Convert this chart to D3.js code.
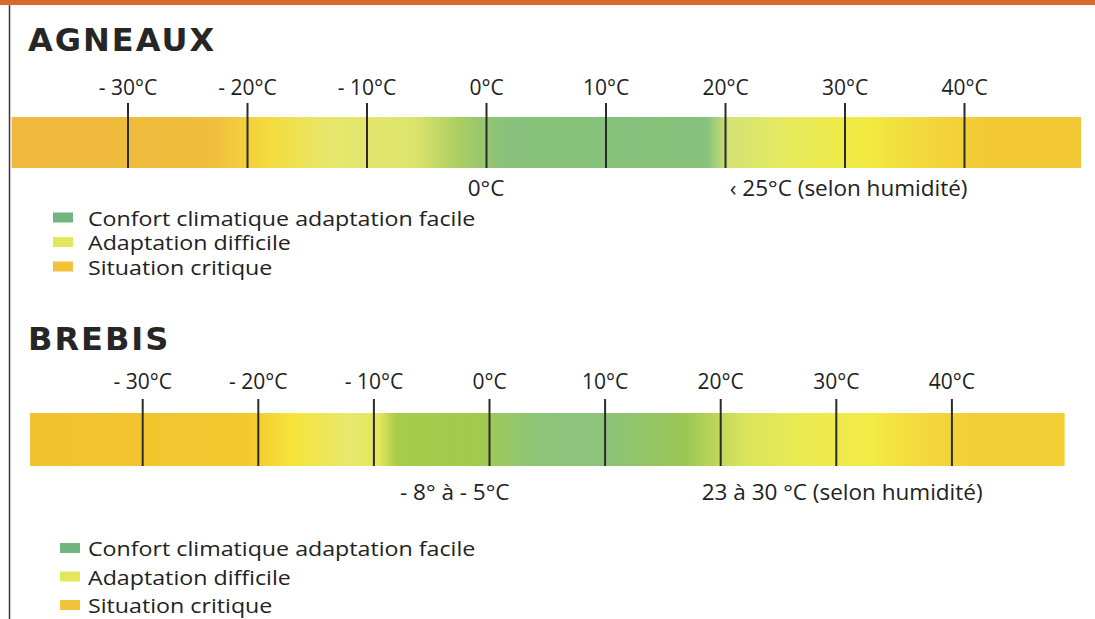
<!DOCTYPE html>
<html><head><meta charset="utf-8">
<script src="https://cdn.jsdelivr.net/npm/d3@7"></script>
<style>
html,body{margin:0;padding:0;background:#fff;}
svg{display:block;}
</style></head>
<body>
<svg id="chart" width="1095" height="619"></svg>
<script>
// ---- data ----
const tickValues = [-30, -20, -10, 0, 10, 20, 30, 40];
const tickLabels = ["- 30°C", "- 20°C", "- 10°C", "0°C", "10°C", "20°C", "30°C", "40°C"];
const barRange = [-39.7, 49.8];

const agneauxStopTemps  = [-40, -23, -18, -13, -6, -2, 1.5, 18.5, 20.3, 25, 32, 37, 42, 50];
const agneauxStopColors = ["#efb83e", "#f0be3c", "#f4dc3e", "#e6e76c", "#dde46c", "#a8cc62", "#88c27c", "#86c27b", "#d2e274", "#e6ea5e", "#f1ea40", "#f3d63c", "#f2c934", "#f2c934"];
const agneauxNotes = [
  {t: 0, text: "0°C", anchor: "middle"},
  {t: 20.4, text: "‹ 25°C (selon humidité)", anchor: "start"}
];

const brebisStopTemps  = [-40, -21, -17, -12, -9.5, -8, -1, 4, 10, 17, 22, 27, 33, 38, 42, 50];
const brebisStopColors = ["#f1c12e", "#f2c82e", "#f5e43a", "#e8e770", "#e4e65a", "#a6cc4a", "#a2ca4c", "#8ec479", "#8cc27a", "#9cc653", "#d9e45c", "#ebea52", "#f3eb44", "#f4d63a", "#f3cf36", "#f3cf36"];
const brebisNotes = [
  {t: -7.7, text: "- 8° à - 5°C", anchor: "start"},
  {t: 18.4, text: "23 à 30 °C (selon humidité)", anchor: "start"}
];

const legendLabels = ["Confort climatique adaptation facile", "Adaptation difficile", "Situation critique"];
const legendColors = ["#72b57f", "#e2e85a", "#f2c23a"];

// ---- drawing ----
const svg = d3.select("#chart");
const bodyFont = "'Open Sans', sans-serif";
const titleFont = "'DejaVu Sans', sans-serif";

svg.append("rect").attr("x", 0).attr("y", 0).attr("width", 1095).attr("height", 5).attr("fill", "#d9692b");
svg.append("line").attr("x1", 9.5).attr("x2", 9.5).attr("y1", 5).attr("y2", 619)
  .attr("stroke", "#3a3a3a").attr("stroke-width", 1.5);

function panel(cfg) {
  const g = svg.append("g");
  const x = d3.scaleLinear().domain([-40, 50]).range(cfg.range);

  g.append("text").attr("x", 28).attr("y", cfg.titleY)
    .attr("font-family", titleFont).attr("font-weight", "bold").attr("font-size", 32)
    .attr("letter-spacing", 2)
    .attr("fill", "#262626").text(cfg.title);

  const gradId = "grad-" + cfg.title;
  const grad = svg.append("defs").append("linearGradient").attr("id", gradId)
    .attr("gradientUnits", "userSpaceOnUse")
    .attr("x1", x(-40)).attr("x2", x(50)).attr("y1", 0).attr("y2", 0);
  grad.selectAll("stop").data(cfg.temps).join("stop")
    .attr("offset", d => (d + 40) / 90)
    .attr("stop-color", (d, i) => cfg.colors[i]);

  g.append("rect").attr("x", x(barRange[0])).attr("y", cfg.barY)
    .attr("width", x(barRange[1]) - x(barRange[0])).attr("height", cfg.barH)
    .attr("fill", `url(#${gradId})`);

  const axis = d3.axisTop(x).tickValues(tickValues)
    .tickFormat((d, i) => tickLabels[i])
    .tickSize(cfg.barY + cfg.barH - cfg.tickTop).tickPadding(cfg.labelPad);
  const ag = g.append("g").attr("transform", `translate(0,${cfg.barY + cfg.barH})`).call(axis);
  ag.select(".domain").remove();
  ag.selectAll(".tick line").attr("stroke", "#2b2b2b").attr("stroke-width", 2);
  ag.selectAll(".tick text").attr("font-family", bodyFont).attr("font-size", 21)
    .attr("fill", "#222");

  g.selectAll("text.note").data(cfg.notes).join("text").attr("class", "note")
    .attr("x", d => x(d.t)).attr("y", cfg.noteY).attr("text-anchor", d => d.anchor)
    .attr("font-family", bodyFont).attr("font-size", 22.5).attr("fill", "#222")
    .text(d => d.text);

  const lg = g.selectAll("g.leg").data(legendLabels).join("g").attr("class", "leg")
    .attr("transform", (d, i) => `translate(${cfg.legX},${cfg.legY + i * cfg.legStep})`);
  lg.append("rect").attr("x", 0).attr("y", -13).attr("width", 20).attr("height", 10)
    .attr("fill", (d, i) => legendColors[i]);
  lg.append("text").attr("x", 88 - cfg.legX).attr("y", 0)
    .attr("font-family", bodyFont).attr("font-size", 20).attr("fill", "#222")
    .text(d => d)
    .each(function() {
      const w = this.getComputedTextLength();
      d3.select(this).attr("textLength", w * 1.16).attr("lengthAdjust", "spacingAndGlyphs");
    });
}

panel({title: "AGNEAUX", titleY: 51, range: [8, 1083.5], barY: 117, barH: 51, tickTop: 103,
  labelPad: 8, colors: agneauxStopColors, temps: agneauxStopTemps, notes: agneauxNotes,
  noteY: 196, legX: 53, legY: 225.5, legStep: 24.5});
panel({title: "BREBIS", titleY: 350, range: [26.6, 1067], barY: 413, barH: 53, tickTop: 399,
  labelPad: 10, colors: brebisStopColors, temps: brebisStopTemps, notes: brebisNotes,
  noteY: 500, legX: 60, legY: 556, legStep: 28.5});
</script>
</body></html>
